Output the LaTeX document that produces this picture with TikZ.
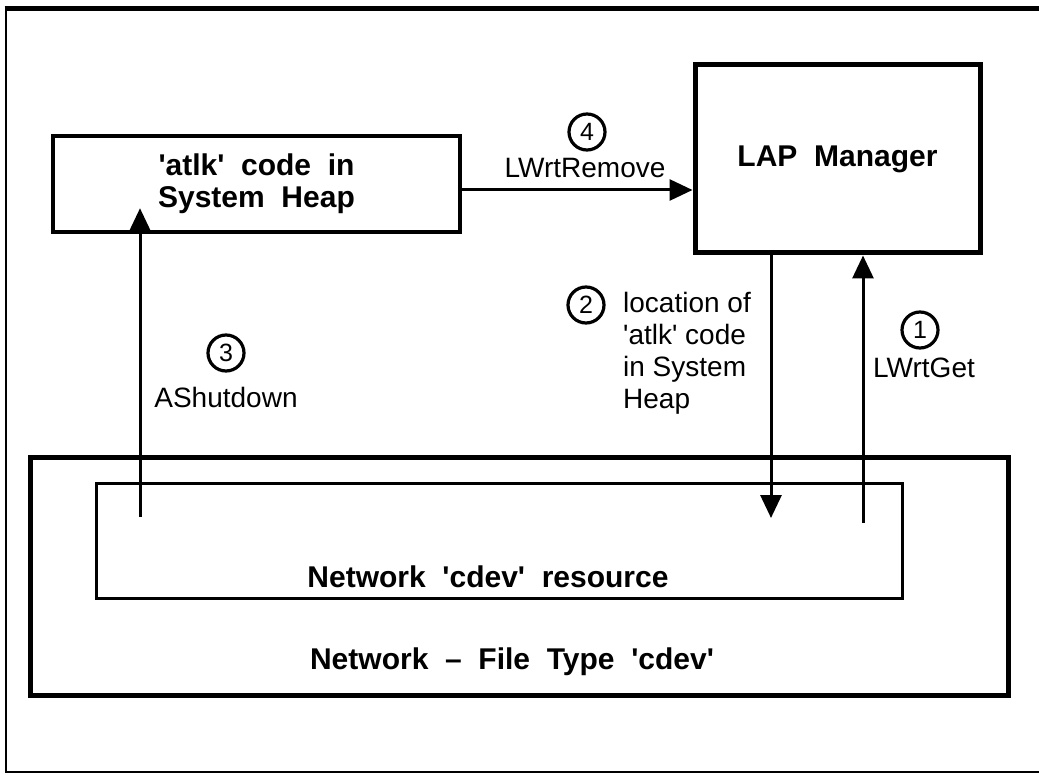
\documentclass[tikz,border=0pt]{standalone}
\usepackage{fontspec}
\setmainfont{Liberation Sans}
\usetikzlibrary{arrows.meta,positioning,calc}

\newcommand{\sq}{\textquotesingle}
\newcommand{\hdfont}{\fontsize{30}{32}\selectfont\bfseries}
\newcommand{\lblfont}{\fontsize{28}{32}\selectfont}
\newcommand{\numfont}{\fontsize{25}{25}\selectfont}

\begin{document}
\begin{tikzpicture}[x=1pt,y=-1pt,
  box/.style={draw, line width=4.5pt, inner sep=0pt, align=center, font=\hdfont},
  flow/.style={line width=3pt, -{Triangle[length=23pt,width=21pt]}},
  numcirc/.style={circle, draw, line width=3.2pt, inner sep=0pt, minimum size=36pt, font=\numfont},
  lbl/.style={inner sep=0pt, font=\lblfont, align=left}]
  \useasboundingbox (0,0) rectangle (1039,775);

  % page frame (right side runs off the page)
  \draw[line width=5pt] (4.5,9) -- (1050,9);
  \draw[line width=2.5pt] (6,9) -- (6,772) -- (1050,772);

  % boxes
  \node[box, minimum width=407pt, minimum height=96pt] (atlk) at (256.5,184) {\sq atlk\sq~~code~~in\\System~~Heap};
  \node[box, line width=5pt, minimum width=285pt, minimum height=188pt] (lap) at (837.5,159) {LAP~~Manager};
  \node[box, line width=5pt, minimum width=978pt, minimum height=238pt] (net) at (519,576) {};
  \node[box, line width=3pt, minimum width=806pt, minimum height=115pt] (res) at (499,540.5) {};
  \node[inner sep=0pt, font=\hdfont] (reslbl) at (488,577) {Network~~\sq cdev\sq~~resource};
  \node[inner sep=0pt, font=\hdfont] (netlbl) at (512,662) {Network~~--~~File~~Type~~\sq cdev\sq};

  % arrow ends inside the resource box
  \coordinate (c3) at (140,517);
  \coordinate (c2) at (771,518);
  \coordinate (c1) at (863,523);
  \coordinate (a4) at ([yshift=-6pt]atlk.east);

  % calls
  \draw[flow] (a4) -- (a4 -| lap.west);
  \draw[flow] (lap.south -| c2) -- (c2);
  \draw[flow] (c1) -- (c1 |- lap.south);
  \draw[flow] (c3) -- ($(c3 |- atlk.south)+(0,-26)$);

  % step labels
  \node[numcirc] (n4) at (587,132) {4};
  \node[lbl] (l4) at (585,168) {LWrtRemove};
  \node[numcirc] (n3) at (226,353) {3};
  \node[lbl] (l3) at (226,397) {AShutdown};
  \node[numcirc] (n2) at (586,305) {2};
  \node[lbl, anchor=north west] (l2) at (623,292) {location of\\\sq atlk\sq{} code\\in System\\Heap};
  \node[numcirc] (n1) at (920,330) {1};
  \node[lbl] (l1) at (924,368) {LWrtGet};
\end{tikzpicture}
\end{document}
